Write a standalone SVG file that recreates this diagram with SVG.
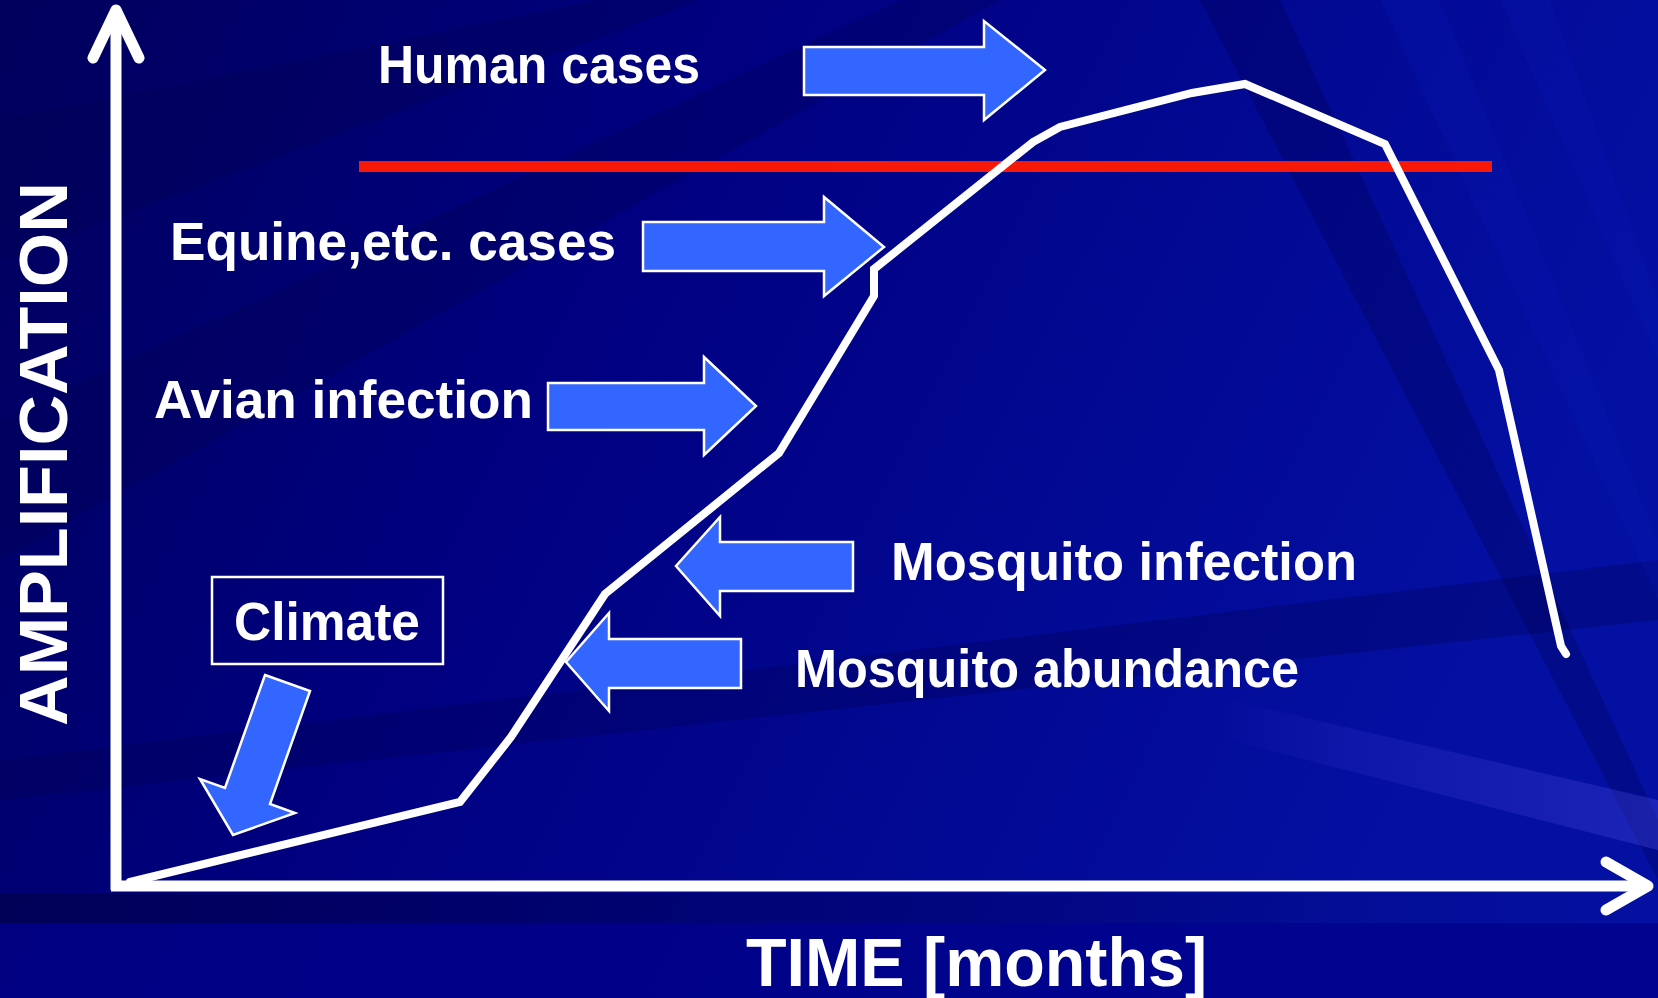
<svg xmlns="http://www.w3.org/2000/svg" width="1658" height="998" viewBox="0 0 1658 998">
  <defs>
    <linearGradient id="bg" x1="0" y1="0" x2="1" y2="0.3">
      <stop offset="0" stop-color="#00005C"/>
      <stop offset="0.4" stop-color="#000080"/>
      <stop offset="1" stop-color="#0410A2"/>
    </linearGradient>
    <linearGradient id="band" x1="0" y1="0" x2="1" y2="0">
      <stop offset="0" stop-color="#3A3AD0" stop-opacity="0"/>
      <stop offset="0.3" stop-color="#3A3AD0" stop-opacity="0.18"/>
      <stop offset="1" stop-color="#4A4AE0" stop-opacity="0.35"/>
    </linearGradient>
    <linearGradient id="under" x1="0" y1="0" x2="1" y2="0">
      <stop offset="0" stop-color="#000050" stop-opacity="0.8"/>
      <stop offset="0.6" stop-color="#000060" stop-opacity="0.4"/>
      <stop offset="1" stop-color="#000060" stop-opacity="0"/>
    </linearGradient>
    <style>
      .lbl { font-family: "Comic Sans MS", "Liberation Sans", "DejaVu Sans", sans-serif; font-weight: bold; fill: #FFFFFF; }
      .blk { fill: #3366FF; stroke: #FFFFFF; stroke-width: 2.5; stroke-linejoin: miter; }
      .axis { fill: none; stroke: #FFFFFF; stroke-width: 11; }
      .head { fill: none; stroke: #FFFFFF; stroke-width: 11; stroke-linecap: round; stroke-linejoin: round; }
      .streakD { fill: #000050; opacity: 0.3; }
      .streakL { fill: #0818B0; opacity: 0.3; }
    </style>
  </defs>

  <!-- background -->
  <rect x="0" y="0" width="1658" height="998" fill="url(#bg)"/>
  <polygon class="streakD" points="0,120 600,0 700,0 0,260"/>
  <polygon class="streakD" points="0,420 900,0 1000,0 0,560"/>
  <polygon class="streakD" points="0,760 1658,560 1658,620 0,800"/>
  <polygon class="streakL" points="1380,0 1440,0 1658,540 1658,600"/>
  <polygon class="streakL" points="1500,0 1550,0 1658,300 1658,360"/>
  <polygon class="streakD" points="1200,0 1280,0 1658,820 1658,880"/>
  <polygon fill="url(#band)" points="1217,697 1658,800 1658,850 1217,737"/>
  <rect x="0" y="893" width="1658" height="30" fill="url(#under)"/>
  <rect x="0" y="923" width="1658" height="75" fill="#000088" opacity="0.7"/>

  <!-- axes -->
  <g id="axes">
    <line class="axis" x1="116" y1="890" x2="116" y2="14"/>
    <polyline class="head" points="93,58 116,10 139,58"/>
    <line class="axis" x1="111" y1="886" x2="1644" y2="886"/>
    <polyline class="head" points="1606,862 1648,886 1606,910"/>
  </g>

  <!-- threshold line -->
  <g id="threshold">
    <rect x="359" y="161" width="1133" height="11" fill="#F81808"/>
  </g>

  <!-- amplification curve -->
  <g id="curve">
    <polyline fill="none" stroke="#FFFFFF" stroke-width="8" stroke-linejoin="miter" stroke-linecap="round"
      points="130,882 460,802 511,737 605,594 779,453 874,296 874,269 1033,142 1060,127 1192,93 1245,84 1385,144 1499,370 1561,646 1566,654"/>
  </g>

  <!-- block arrows -->
  <g id="connectors">
    <polygon id="arrow-human" class="blk" points="804,47 984,47 984,21 1045,70 984,120 984,95 804,95"/>
    <polygon id="arrow-equine" class="blk" points="643,222 824,222 824,197 884,247 824,296 824,271 643,271"/>
    <polygon id="arrow-avian" class="blk" points="548,383 704,383 704,357 756,406 704,455 704,430 548,430"/>
    <polygon id="arrow-mosq-inf" class="blk" points="853,542 720,542 720,517 676,566 720,616 720,591 853,591"/>
    <polygon id="arrow-mosq-ab" class="blk" points="741,639 609,639 609,613 566,662 609,711 609,688 741,688"/>
    <polygon id="arrow-climate" class="blk" points="265,675 310,691 270,804 295,813 233,835 200,779 225,788"/>
  </g>

  <!-- labels -->
  <g id="human-cases">
    <text class="lbl" x="378" y="83" font-size="53" textLength="322" lengthAdjust="spacingAndGlyphs">Human cases</text>
  </g>
  <g id="equine-cases">
    <text class="lbl" x="170" y="260" font-size="53" textLength="446" lengthAdjust="spacingAndGlyphs">Equine,etc. cases</text>
  </g>
  <g id="avian-infection">
    <text class="lbl" x="154" y="418" font-size="53" textLength="379" lengthAdjust="spacingAndGlyphs">Avian infection</text>
  </g>
  <g id="mosquito-infection">
    <text class="lbl" x="891" y="580" font-size="53" textLength="466" lengthAdjust="spacingAndGlyphs">Mosquito infection</text>
  </g>
  <g id="mosquito-abundance">
    <text class="lbl" x="795" y="687" font-size="53" textLength="504" lengthAdjust="spacingAndGlyphs">Mosquito abundance</text>
  </g>
  <g id="climate">
    <rect x="212" y="577" width="231" height="87" fill="none" stroke="#FFFFFF" stroke-width="2.5"/>
    <text class="lbl" x="234" y="640" font-size="54" textLength="186" lengthAdjust="spacingAndGlyphs">Climate</text>
  </g>
  <g id="time-label">
    <text class="lbl" x="746" y="986" font-size="68" textLength="461" lengthAdjust="spacingAndGlyphs">TIME [months]</text>
  </g>
  <g id="amplification-label">
    <text class="lbl" x="0" y="0" font-size="68" textLength="544" lengthAdjust="spacingAndGlyphs" transform="translate(67,726) rotate(-90)">AMPLIFICATION</text>
  </g>
</svg>
